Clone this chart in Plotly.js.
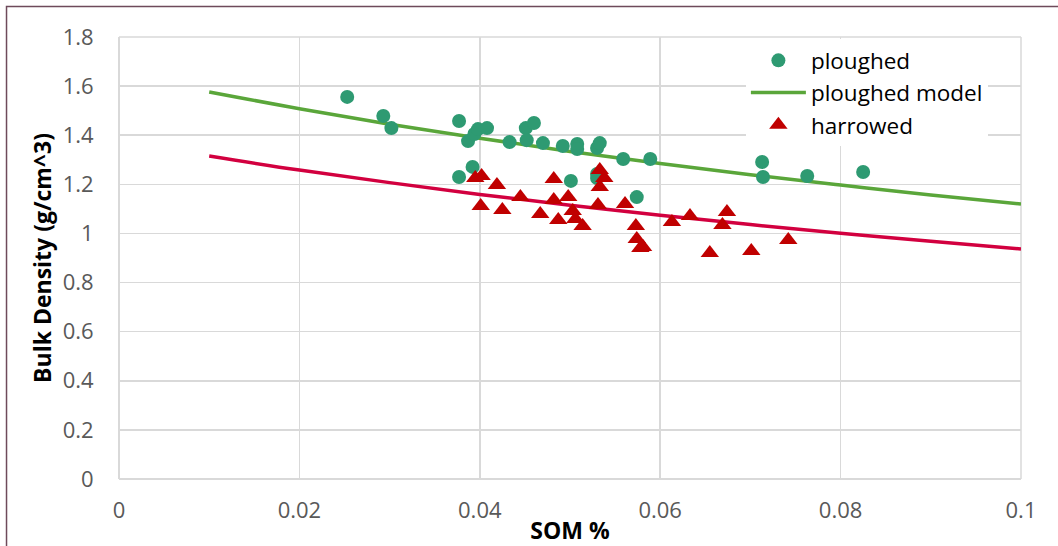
<!DOCTYPE html>
<html>
<head>
<meta charset="utf-8">
<script src="https://cdn.plot.ly/plotly-3.0.1.min.js"></script>
<style>
html,body{margin:0;padding:0;background:#fff;}
#chart{width:1058px;height:546px;}
</style>
</head>
<body>
<div id="chart"></div>
<script>
// ploughed observations (SOM fraction, bulk density)
const ploughedSOM = [0.0253,0.0293,0.0302,0.0377,0.0377,0.0387,0.0392,0.0394,0.0398,0.0408,
  0.0433,0.0451,0.0460,0.0452,0.0470,0.0492,0.0508,0.0508,0.0530,0.0533,
  0.0501,0.0530,0.0530,0.0559,0.0589,0.0574,0.0713,0.0714,0.0763,0.0825];
const ploughedBD = [1.556,1.478,1.429,1.458,1.230,1.376,1.271,1.405,1.425,1.429,
  1.372,1.429,1.450,1.380,1.368,1.356,1.364,1.344,1.348,1.368,
  1.214,1.242,1.226,1.303,1.303,1.148,1.291,1.230,1.234,1.250];

// harrowed observations
const harrowedSOM = [0.0395,0.0402,0.0419,0.0401,0.0425,0.0445,0.0467,0.0482,0.0482,0.0487,
  0.0498,0.0503,0.0506,0.0514,0.0531,0.0533,0.0538,0.0533,0.0561,0.0573,
  0.0574,0.0578,0.0581,0.0613,0.0633,0.0669,0.0674,0.0655,0.0701,0.0742];
const harrowedBD = [1.226,1.234,1.197,1.112,1.095,1.148,1.079,1.222,1.136,1.055,
  1.148,1.091,1.059,1.030,1.116,1.258,1.226,1.189,1.120,1.030,
  0.977,0.941,0.945,1.047,1.071,1.034,1.087,0.920,0.928,0.973];

// model curves
const modelSOM = [0.01,0.02,0.03,0.04,0.05,0.06,0.07,0.08,0.09,0.10];
const ploughedModelBD = [1.576,1.508,1.445,1.388,1.334,1.285,1.239,1.197,1.157,1.120];
const harrowedModelBD = [1.315,1.258,1.207,1.159,1.115,1.074,1.036,1.001,0.968,0.937];

const xTicks = [0,0.02,0.04,0.06,0.08,0.1];
const yTicks = [0,0.2,0.4,0.6,0.8,1,1.2,1.4,1.6,1.8];

const FONT = '"Open Sans", "Liberation Sans", sans-serif';

const traces = [
  {x: modelSOM, y: ploughedModelBD, mode:'lines', name:'ploughed model',
   line:{color:'#5aa63a', width:3.5, shape:'spline'}, showlegend:false, hoverinfo:'skip'},
  {x: modelSOM, y: harrowedModelBD, mode:'lines', name:'harrowed model',
   line:{color:'#d2003f', width:3.5, shape:'spline'}, showlegend:false},
  {x: ploughedSOM, y: ploughedBD, mode:'markers', name:'ploughed',
   marker:{symbol:'circle', size:14, color:'#2e9a72'}},
  {x: [null], y: [null], mode:'lines', name:'ploughed model',
   line:{color:'#5aa63a', width:3.5}},
  {x: harrowedSOM, y: harrowedBD, mode:'markers', name:'harrowed',
   marker:{symbol:'triangle-up', size:16, color:'#c00000'}}
];

const layout = {
  width:1058, height:546,
  margin:{l:119, r:37, t:37, b:67, pad:0},
  paper_bgcolor:'#ffffff', plot_bgcolor:'#ffffff',
  font:{family:FONT, size:20, color:'#595959'},
  showlegend:true,
  legend:{x:0.695, y:0.995, xanchor:'left', yanchor:'top', bgcolor:'#ffffff',
    font:{family:FONT, size:22.5, color:'#000000'}, itemwidth:55, tracegroupgap:0},
  xaxis:{range:[0,0.1], tickvals:xTicks, ticktext:xTicks.map(String),
    showgrid:true, gridcolor:'#d9d9d9', gridwidth:1.5,
    zeroline:true, zerolinecolor:'#d9d9d9', zerolinewidth:1.5,
    showline:false, ticks:'outside', ticklen:12, tickcolor:'rgba(0,0,0,0)',
    tickfont:{family:FONT, size:22, color:'#595959'},
    title:{text:'<b>SOM %</b>', font:{family:FONT, size:23, color:'#000000'}, standoff:2}},
  yaxis:{range:[0,1.8], tickvals:yTicks, ticktext:yTicks.map(String),
    showgrid:true, gridcolor:'#d9d9d9', gridwidth:1.5,
    zeroline:true, zerolinecolor:'#d9d9d9', zerolinewidth:1.5,
    showline:false, ticks:'outside', ticklen:20, tickcolor:'rgba(0,0,0,0)',
    tickfont:{family:FONT, size:22, color:'#595959'},
    title:{text:'<b>Bulk Density (g/cm^3)</b>', font:{family:FONT, size:23, color:'#000000'}, standoff:4}},
  shapes:[
    {type:'line', xref:'paper', yref:'paper', x0:1, x1:1, y0:0, y1:1, line:{color:'#d9d9d9', width:1.5}, layer:'below'},
    {type:'line', xref:'paper', yref:'paper', x0:0, x1:1, y0:1, y1:1, line:{color:'#d9d9d9', width:1.5}, layer:'below'},
    {type:'rect', xref:'paper', yref:'paper', x0:-0.1247, x1:1.3, y0:-0.4, y1:1.069,
     line:{color:'#6e4a5a', width:1.5}, fillcolor:'rgba(0,0,0,0)'}
  ]
};

Plotly.newPlot('chart', traces, layout, {displayModeBar:false, staticPlot:true});
</script>
</body>
</html>
